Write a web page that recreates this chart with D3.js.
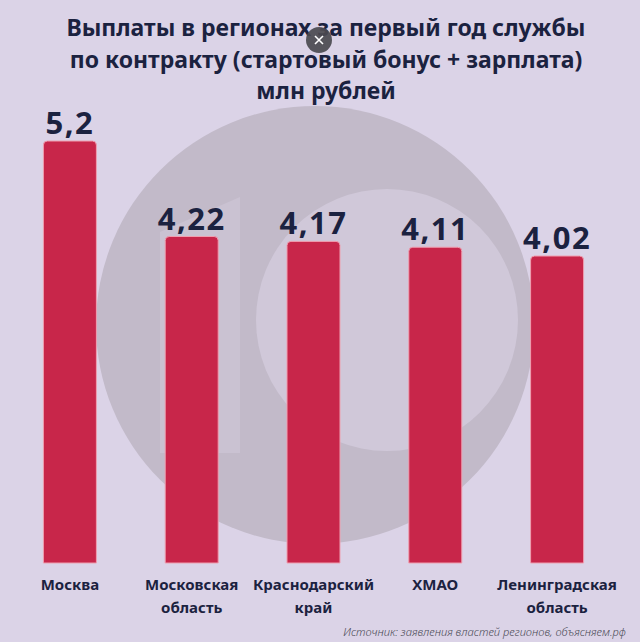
<!DOCTYPE html>
<html>
<head>
<meta charset="utf-8">
<script src="https://cdn.jsdelivr.net/npm/d3@7"></script>
<style>
  html, body { margin: 0; padding: 0; background: #dbd3e7; }
  svg { display: block; }
</style>
</head>
<body>
<svg id="chart"></svg>
<script>
// data
const regions = ["Москва", "Московская область", "Краснодарский край", "ХМАО", "Ленинградская область"];
const regionLines = [["Москва"], ["Московская", "область"], ["Краснодарский", "край"], ["ХМАО"], ["Ленинградская", "область"]];
const payouts = [5.2, 4.22, 4.17, 4.11, 4.02];
const payoutLabels = ["5,2", "4,22", "4,17", "4,11", "4,02"];
const titleLines = ["Выплаты в регионах за первый год службы", "по контракту (стартовый бонус + зарплата)", "млн рублей"];
const source = "Источник: заявления властей регионов, объясняем.рф";

const width = 640, height = 642;
const baseY = 563;
const font = "'Noto Sans', sans-serif";
const ink = "#1b2240";

const svg = d3.select("#chart")
  .attr("width", width)
  .attr("height", height);

svg.append("rect")
  .attr("width", width).attr("height", height)
  .attr("fill", "#dbd3e7");

// watermark "10" in the background
const mark = svg.append("g");
mark.append("circle").attr("cx", 315).attr("cy", 325).attr("r", 219).attr("fill", "#c2bac9");
mark.append("path").attr("d", "M160,453V232L240,197V453Z").attr("fill", "#cac2d2");
mark.append("circle").attr("cx", 387).attr("cy", 320).attr("r", 131).attr("fill", "#d0c8d9");

const x = d3.scaleBand()
  .domain(regions)
  .range([9, 618])
  .paddingInner(0.565)
  .paddingOuter(0.2825);

const y = d3.scaleLinear()
  .domain([0.87, 5.2])
  .range([baseY, 141]);

const r = 4;
const barPath = (d, i) => {
  const x0 = x(regions[i]), x1 = x0 + x.bandwidth(), top = y(d);
  return `M${x0},${baseY}V${top + r}Q${x0},${top} ${x0 + r},${top}H${x1 - r}Q${x1},${top} ${x1},${top + r}V${baseY}Z`;
};

svg.append("g")
  .selectAll("path")
  .data(payouts)
  .enter()
  .append("path")
  .attr("d", barPath)
  .attr("fill", "#c8264a")
  .attr("stroke", "#ef9fb0")
  .attr("stroke-width", 1);

svg.append("g")
  .selectAll("text")
  .data(payouts)
  .enter()
  .append("text")
  .attr("x", (d, i) => x(regions[i]) + x.bandwidth() / 2)
  .attr("y", d => y(d) - 7)
  .attr("text-anchor", "middle")
  .attr("font-family", font)
  .attr("font-weight", 700)
  .attr("font-size", 31)
  .attr("letter-spacing", 1.5)
  .attr("fill", ink)
  .text((d, i) => payoutLabels[i]);

// category labels
const cats = svg.append("g")
  .selectAll("text")
  .data(regions)
  .enter()
  .append("text")
  .attr("x", d => x(d) + x.bandwidth() / 2)
  .attr("y", 590)
  .attr("text-anchor", "middle")
  .attr("font-family", font)
  .attr("font-weight", 700)
  .attr("font-size", 15)
  .attr("fill", ink);
cats.selectAll("tspan")
  .data((d, i) => regionLines[i])
  .enter()
  .append("tspan")
  .attr("x", function () { return d3.select(this.parentNode).attr("x"); })
  .attr("dy", (d, i) => i ? 23 : 0)
  .text(d => d);

// title
svg.append("g")
  .selectAll("text")
  .data(titleLines)
  .enter()
  .append("text")
  .attr("x", 326)
  .attr("y", (d, i) => 36 + i * 31.5)
  .attr("text-anchor", "middle")
  .attr("font-family", font)
  .attr("font-weight", 700)
  .attr("font-size", 23)
  .attr("fill", ink)
  .text(d => d);

// close button overlay
const btn = svg.append("g").attr("transform", "translate(319,40)");
btn.append("circle").attr("r", 13).attr("fill", "#4b4a50").attr("opacity", 0.92);
btn.append("path").attr("d", "M-4,-4L4,4M4,-4L-4,4").attr("stroke", "#fff").attr("stroke-width", 1.6);

svg.append("text")
  .attr("x", 626)
  .attr("y", 636)
  .attr("text-anchor", "end")
  .attr("font-family", font)
  .attr("font-style", "italic")
  .attr("font-weight", 300)
  .attr("font-size", 11.2)
  .attr("fill", "#4a4a55")
  .text(source);
</script>
</body>
</html>
